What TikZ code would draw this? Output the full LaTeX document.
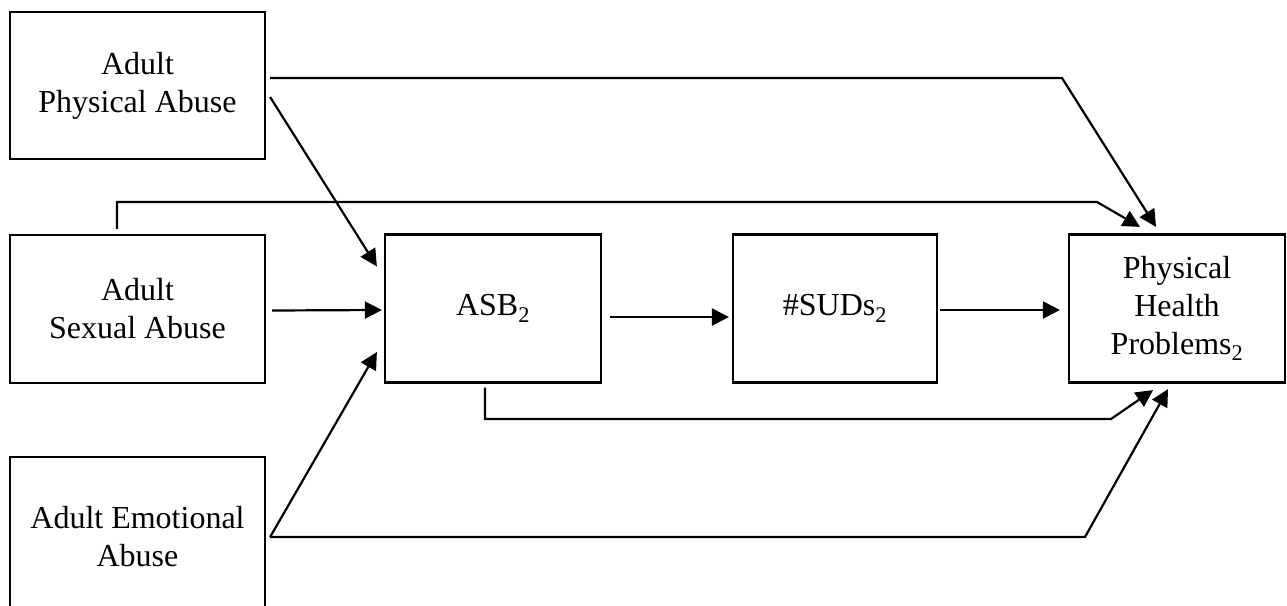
\documentclass[tikz,border=0pt]{standalone}
\usepackage{fontspec}
\setmainfont{Liberation Serif}
\usetikzlibrary{arrows.meta,calc}

\begin{document}
\begin{tikzpicture}[x=1pt,y=-1pt,
  box/.style={draw,line width=2.2pt,inner sep=0pt,align=center,
    font=\fontsize{32}{38}\selectfont},
  link/.style={line width=2.2pt,-{Triangle[length=17pt,width=17pt]}}]
\useasboundingbox (0,0) rectangle (1287,605);

% exposures
\node[box,minimum width=255,minimum height=147] (pa) at (137.5,85.5) {Adult\\Physical Abuse};
\node[box,minimum width=255,minimum height=148] (sa) at (137.5,309) {Adult\\Sexual Abuse};
\node[box,minimum width=255,minimum height=160] (ea) at (137.5,537) {Adult Emotional\\Abuse};

% mediators and outcome
\node[box,minimum width=216,minimum height=148] (asb) at (493,308.5) {ASB\textsubscript{2}};
\node[box,minimum width=204,minimum height=148] (suds) at (835,308.5) {\#SUDs\textsubscript{2}};
\node[box,minimum width=216,minimum height=148] (php) at (1177,308.5) {Physical\\Health\\Problems\textsubscript{2}};

% paths into ASB
\draw[link] ($(pa.east)+(4,11.5)$) -- ($(asb.west)+(-7,-42)$);
\draw[link] ($(sa.east)+(6,1.5)$) -- ($(asb.west)+(-2,1.5)$);
\draw[link] ($(ea.east)+(4,0)$) -- ($(asb.west)+(-7,43.5)$);

% chain
\draw[link] ($(asb.east)+(8,8.5)$) -- ($(suds.west)+(-3,8.5)$);
\draw[link] ($(suds.east)+(2,1.5)$) -- ($(php.west)+(-8,1.5)$);

% direct paths into physical health
\coordinate (paturn) at (1062,78);
\draw[link] ($(pa.east)+(4,-7.5)$) -- (paturn) -- ($(php.north)+(-21,-6.5)$);

\coordinate (saup) at (117,202);
\coordinate (saturn) at (1097,202);
\draw[link] ($(sa.north)+(-20.5,-5)$) -- (saup) -- (saturn) -- ($(php.north)+(-37,-6.5)$);

\coordinate (asbdown) at (485,419);
\coordinate (asbturn) at (1111,419);
\draw[link] ($(asb.south)+(-8,4)$) -- (asbdown) -- (asbturn) -- ($(php.south)+(-24,6.5)$);

\coordinate (eaturn) at (1085,537);
\draw[link] ($(ea.east)+(4,0)$) -- (eaturn) -- ($(php.south)+(-9,5.5)$);
\end{tikzpicture}
\end{document}
